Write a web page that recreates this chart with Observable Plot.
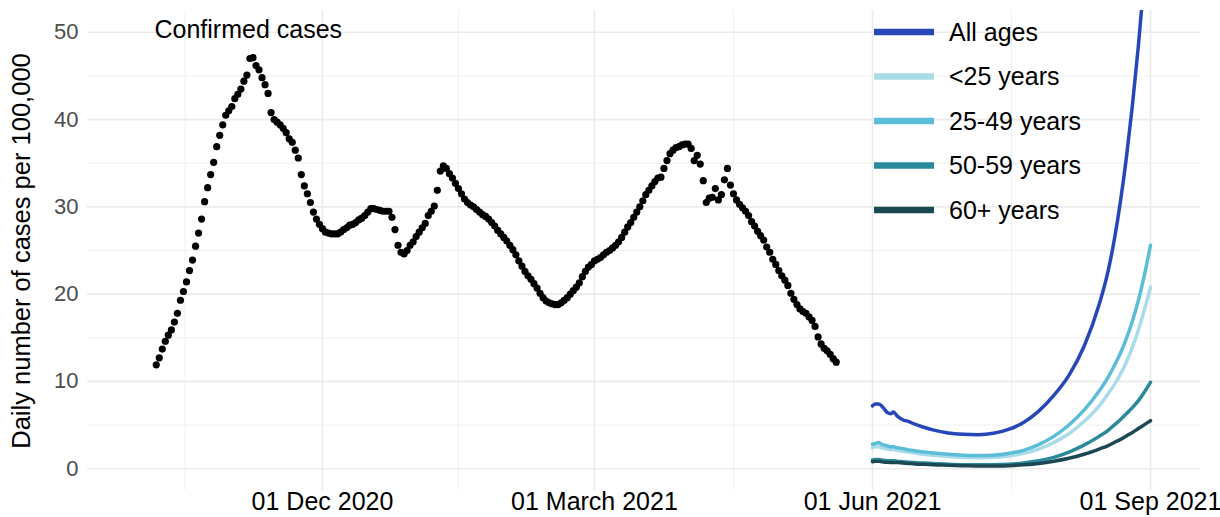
<!DOCTYPE html>
<html><head><meta charset="utf-8">
<script src="https://cdn.jsdelivr.net/npm/d3@7"></script>
<script src="https://cdn.jsdelivr.net/npm/@observablehq/plot@0.6"></script>
<style>
html,body{margin:0;padding:0;background:#fff;}
#chart svg{display:block;}
g[aria-label="y-axis tick label"]{fill:#4d4d4d;}
g[aria-label="x-axis tick label"]{fill:#000;}
</style></head><body><div id="chart"></div>
<script>
// Confirmed cases: one value per day starting at confirmedStart
const confirmedStart = "2020-10-07";
const confirmedValues = [
 11.9,12.7,13.7,14.6,15.3,15.9,16.8,17.8,19.3,20.3,
 21.4,22.7,23.9,25.5,27.0,28.6,30.6,32.2,33.7,35.1,
 36.9,38.2,39.4,40.5,41.0,41.5,42.4,42.9,43.5,44.4,
 45.1,47.0,47.1,46.2,45.7,44.8,44.0,43.0,40.8,40.0,
 39.7,39.4,39.0,38.5,37.8,37.4,36.5,35.6,33.7,32.4,
 31.5,30.5,29.4,28.6,28.0,27.5,27.1,27.0,26.9,26.9,
 26.9,27.1,27.4,27.6,27.9,28.0,28.2,28.5,28.7,29.0,
 29.4,29.8,29.8,29.7,29.6,29.5,29.5,29.5,28.8,27.4,
 25.6,24.8,24.6,25.0,25.6,26.0,26.6,27.1,27.6,28.1,
 29.0,29.5,30.1,31.9,34.1,34.7,34.4,33.8,33.3,32.7,
 32.1,31.5,30.9,30.5,30.2,30.0,29.7,29.4,29.1,28.9,
 28.6,28.2,27.8,27.3,26.9,26.5,26.1,25.6,25.1,24.5,
 23.8,23.2,22.6,22.1,21.7,21.2,20.7,20.1,19.6,19.2,
 19.0,18.9,18.8,18.8,19.0,19.3,19.6,20.0,20.4,20.8,
 21.3,22.0,22.6,23.1,23.4,23.8,24.0,24.2,24.5,24.8,
 25.0,25.3,25.6,26.0,26.5,27.1,27.7,28.2,28.8,29.4,
 30.0,30.7,31.4,31.9,32.4,32.9,33.3,33.4,34.4,35.3,
 36.1,36.5,36.8,36.9,37.1,37.2,37.2,36.7,35.3,35.9,
 34.9,33.0,30.5,31.0,31.1,32.1,30.8,31.4,33.1,34.4,
 32.5,31.5,30.8,30.3,29.9,29.5,29.0,28.3,27.8,27.2,
 26.7,26.2,25.4,24.8,24.0,23.4,22.7,22.1,21.6,21.0,
 20.1,19.4,18.8,18.3,18.0,17.8,17.4,17.0,16.3,15.1,
 14.3,13.8,13.5,13.1,12.6,12.2
];

// Projections: days after projStart
const projStart = "2021-06-01";
const projDays   = [0,1,2,3,4,5,6,7,8,10,12,14,17,20,25,30,35,40,45,50,55,60,65,70,75,78,80,82,84,86,88,90,92];
const allAges    = [7.2,7.4,7.4,7.2,6.8,6.4,6.3,6.5,6.1,5.6,5.4,5.1,4.75,4.45,4.1,3.95,3.9,4.05,4.5,5.3,6.6,8.4,10.7,14.0,18.8,22.7,26.2,30.5,35.6,41.6,48.5,56.5,65.8];
const under25    = [2.4,2.5,2.5,2.4,2.3,2.25,2.2,2.2,2.1,2.0,1.9,1.8,1.65,1.55,1.4,1.3,1.25,1.3,1.45,1.75,2.25,3.0,4.0,5.4,7.2,8.6,9.6,10.8,12.2,13.9,15.9,18.2,20.8];
const age25to49  = [2.8,2.9,3.0,2.8,2.7,2.6,2.5,2.5,2.4,2.3,2.15,2.05,1.9,1.8,1.65,1.55,1.5,1.55,1.75,2.1,2.75,3.7,5.0,6.7,8.9,10.5,11.8,13.2,14.9,16.9,19.3,22.2,25.6];
const age50to59  = [1.0,1.05,1.05,1.0,0.95,0.9,0.9,0.9,0.85,0.8,0.75,0.7,0.65,0.6,0.5,0.45,0.45,0.45,0.5,0.65,0.9,1.3,1.9,2.7,3.7,4.4,5.0,5.6,6.3,7.0,7.8,8.8,9.9];
const age60plus  = [0.8,0.85,0.85,0.8,0.75,0.75,0.7,0.7,0.7,0.65,0.6,0.55,0.5,0.45,0.4,0.35,0.3,0.3,0.35,0.45,0.6,0.85,1.2,1.65,2.25,2.65,3.0,3.35,3.75,4.15,4.6,5.05,5.5];

const groups      = ["All ages","<25 years","25-49 years","50-59 years","60+ years"];
const groupColors = ["#2747b8","#a9dbe8","#5bbdd6","#2a8a9b","#1c4853"];

const xTicks      = ["2020-12-01","2021-03-01","2021-06-01","2021-09-01"];
const xTickLabels = ["01 Dec 2020","01 March 2021","01 Jun 2021","01 Sep 2021"];
const xMinor      = ["2020-10-16T12:00:00Z","2021-01-15","2021-04-16","2021-07-17"];
const yTicks      = [0,10,20,30,40,50];
const yMinor      = [5,15,25,35,45];
const xDomain     = ["2020-09-14T06:00:00Z","2021-09-17T13:00:00Z"];
const yDomain     = [-2.5, 52.5];

const annotation = "Confirmed cases";
const yTitle = "Daily number of cases per 100,000";

const DAY = 864e5;
const confirmed = confirmedValues.map((v,i)=>({date:new Date(+new Date(confirmedStart)+i*DAY), value:v}));
const seriesValues = [allAges, under25, age25to49, age50to59, age60plus];
const projections = groups.flatMap((g,k)=>projDays.map((d,j)=>({group:g, date:new Date(+new Date(projStart)+d*DAY), value:seriesValues[k][j]})));
const labelMap = new Map(xTicks.map((d,i)=>[+new Date(d), xTickLabels[i]]));

const font = "'Liberation Sans', Arial, Helvetica, sans-serif";
const chart = Plot.plot({
  width:1220, height:517,
  marginLeft:87, marginRight:20, marginTop:10, marginBottom:27,
  style:{fontFamily:font, background:"white", overflow:"visible"},
  x:{type:"utc", domain:xDomain.map(d=>new Date(d))},
  y:{domain:yDomain},
  color:{domain:groups, range:groupColors},
  marks:[
    Plot.ruleY(yMinor,{stroke:"#f0f0f0", strokeWidth:1}),
    Plot.ruleX(xMinor.map(d=>new Date(d)),{stroke:"#f0f0f0", strokeWidth:1}),
    Plot.ruleY(yTicks,{stroke:"#ebebeb", strokeWidth:1.6}),
    Plot.ruleX(xTicks.map(d=>new Date(d)),{stroke:"#ebebeb", strokeWidth:1.6}),
    Plot.axisX(xTicks.map(d=>new Date(d)),{tickSize:0, tickPadding:2, fontSize:25, tickFormat:d=>labelMap.get(+d), label:null, color:"#000"}),
    Plot.axisY(yTicks,{tickSize:0, tickPadding:9, fontSize:22, label:null, color:"#4d4d4d"}),
    Plot.dot(confirmed,{x:"date", y:"value", r:3.6, fill:"#000"}),
    Plot.line(projections,{x:"date", y:"value", z:"group", stroke:"group", strokeWidth:3.5, curve:"monotone-x", clip:true}),
    Plot.text([annotation],{frameAnchor:"top-left", dx:67, dy:10, lineAnchor:"top", textAnchor:"start", fontSize:25, fill:"#000"})
  ]
});
document.getElementById("chart").appendChild(chart);

const svg = d3.select(chart);
svg.append("text")
  .attr("transform","translate(30,251) rotate(-90)")
  .attr("text-anchor","middle")
  .attr("font-family",font)
  .attr("font-size",25.5)
  .attr("fill","#000")
  .text(yTitle);

const lg = svg.append("g").attr("font-family",font).attr("font-size",25).attr("text-anchor","start");
groups.forEach((g,k)=>{
  const y = 32 + k*44.5;
  lg.append("line").attr("x1",874).attr("x2",934).attr("y1",y).attr("y2",y)
    .attr("stroke",groupColors[k]).attr("stroke-width",6.5);
  lg.append("text").attr("x",949).attr("y",y).attr("dy","0.35em").attr("text-anchor","start").attr("fill","#000").text(g);
});
</script></body></html>
